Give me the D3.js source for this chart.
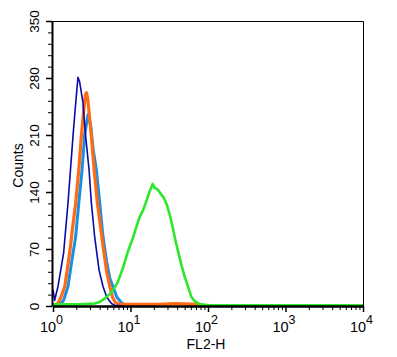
<!DOCTYPE html>
<html>
<head>
<meta charset="utf-8">
<script src="https://cdn.jsdelivr.net/npm/d3@7"></script>
<style>
  body { margin: 0; background: #fff; }
  svg { display: block; font-family: "Liberation Sans", Arial, Helvetica, sans-serif; }
</style>
</head>
<body>
<div id="chart"></div>
<script>
// FL2-H channel values (linear) and event counts
var navyX  = [1, 1.05, 1.16, 1.37, 1.56, 1.81, 1.93, 2.10, 2.21, 2.44, 2.64, 2.92, 3.13, 3.45, 3.93, 4.42, 4.93, 5.68, 6.25, 8];
var navyY  = [20, 7, 24, 65, 126, 208, 241, 281, 275, 249, 208, 167, 126, 85, 44, 24, 11, 3, 1, 0];

var blueX  = [1, 1.22, 1.37, 1.56, 1.74, 1.96, 2.15, 2.37, 2.56, 2.83, 3.06, 3.30, 3.63, 4.01, 4.42, 4.93, 5.40, 5.94, 6.64, 7.64, 8.67, 9.77];
var blueY  = [0, 1, 7, 24, 54, 85, 126, 167, 210, 235, 222, 192, 167, 126, 85, 54, 34, 24, 11, 4, 1, 0];

var orangeX = [1, 1.11, 1.22, 1.42, 1.64, 1.79, 1.96, 2.15, 2.32, 2.49, 2.60, 2.70, 2.81, 3.13, 3.40, 3.74, 4.12, 4.55, 4.93, 5.40, 5.89, 6.44, 7.24, 13.2, 22.4, 37.2, 77.6, 93];
var orangeY = [1, 1, 7, 24, 65, 96, 126, 167, 208, 240, 258, 262, 254, 208, 167, 126, 96, 65, 42, 24, 10, 4, 2, 2, 2, 3, 2, 0];

var greenX = [1, 2.21, 3.45, 4.01, 4.79, 5.72, 6.84, 8.00, 9.20, 10.7, 12.0, 13.1, 14.6, 16.2, 17.7, 19.3, 20.5, 22.4, 24.5, 26.8, 29.3, 32.1, 35.1, 38.3, 41.9, 45.8, 50.0, 54.7, 61.1, 67.4, 78.2, 105, 10000];
var greenY = [2, 2, 3, 5, 10, 17, 29, 47, 66, 83, 98, 109, 118, 130, 141, 150, 145, 143, 138, 133, 125, 112, 96, 79, 64, 49, 36, 25, 11, 6, 2, 1, 1];

var yMajor = [0, 70, 140, 210, 280, 350];
var xMajor = [1, 10, 100, 1000, 10000];

var width = 397, height = 357;
var margin = {top: 21, right: 34, bottom: 51, left: 53};

var svg = d3.select("#chart").append("svg")
    .attr("width", width)
    .attr("height", height);

var x = d3.scaleLog().domain([1, 10000]).range([margin.left, width - margin.right]);
var y = d3.scaleLinear().domain([0, 350]).range([height - margin.bottom, margin.top]);

var series = [
  {xs: blueX, ys: blueY, color: "#1a8fe6", w: 3},
  {xs: orangeX, ys: orangeY, color: "#ff6a12", w: 3.2},
  {xs: navyX, ys: navyY, color: "#0a0aa8", w: 1.6},
  {xs: greenX, ys: greenY, color: "#2be82b", w: 2.6}
];

var line = d3.line()
    .x(function(d) { return x(d[0]); })
    .y(function(d) { return y(d[1]); });

svg.selectAll("path.hist")
  .data(series)
  .enter()
  .append("path")
  .attr("class", "hist")
  .attr("fill", "none")
  .attr("stroke", function(d) { return d.color; })
  .attr("stroke-width", function(d) { return d.w; })
  .attr("stroke-linejoin", "round")
  .attr("d", function(d) { return line(d3.zip(d.xs, d.ys)); });

// frame: thin top and right
svg.append("path")
  .attr("fill", "none")
  .attr("stroke", "#000")
  .attr("stroke-width", 1)
  .attr("d", "M" + (margin.left - 1) + "," + (margin.top + 0.5) + "H" + (width - margin.right + 0.5) + "V" + (height - margin.bottom));

// y axis: minor then major
var yMinor = d3.range(0, 351, 14).filter(function(v) { return v % 70 !== 0; });
var gyMinor = svg.append("g")
  .attr("transform", "translate(" + (margin.left - 1) + ",0)")
  .call(d3.axisLeft(y).tickValues(yMinor).tickSize(4).tickFormat(""));
gyMinor.select(".domain").remove();

var gy = svg.append("g")
  .attr("transform", "translate(" + (margin.left - 1) + ",0)")
  .call(d3.axisLeft(y).tickValues(yMajor).tickSize(6).tickSizeOuter(0));
gy.select(".domain").attr("stroke-width", 2);
gy.selectAll(".tick line").attr("stroke-width", 1.5);
gy.selectAll(".tick text")
  .attr("transform", "rotate(-90)")
  .attr("x", 0)
  .attr("y", -13)
  .attr("dy", 0)
  .attr("text-anchor", "middle")
  .attr("fill", "#000")
  .attr("font-size", 13.5)
  .attr("font-family", "Liberation Sans, Arial, sans-serif");

// x axis: minor then major
var xMinor = [];
[1, 10, 100, 1000].forEach(function(dec) {
  for (var k = 2; k <= 9; k++) xMinor.push(dec * k);
});
var gxMinor = svg.append("g")
  .attr("transform", "translate(0," + (height - margin.bottom) + ")")
  .call(d3.axisBottom(x).tickValues(xMinor).tickSize(4).tickFormat(""));
gxMinor.select(".domain").remove();

var gx = svg.append("g")
  .attr("transform", "translate(0," + (height - margin.bottom) + ")")
  .call(d3.axisBottom(x).tickValues(xMajor).tickSize(6).tickSizeOuter(0));
gx.select(".domain").attr("stroke-width", 2.5);
gx.selectAll(".tick line").attr("stroke-width", 1.5);
gx.selectAll(".tick text")
  .text(null)
  .attr("y", 26)
  .attr("dy", 0)
  .attr("dx", -2)
  .attr("fill", "#000")
  .attr("font-family", "Liberation Sans, Arial, sans-serif")
  .each(function(d) {
    var t = d3.select(this);
    t.append("tspan").attr("font-size", 14.5).text("10");
    t.append("tspan").attr("font-size", 12.5).attr("dy", -8).text(Math.round(Math.log10(d)));
  });

// axis titles
svg.append("text")
  .attr("transform", "translate(23," + ((margin.top + height - margin.bottom) / 2 + 2) + ") rotate(-90)")
  .attr("text-anchor", "middle")
  .attr("font-size", 14)
  .text("Counts");

svg.append("text")
  .attr("x", x(100) - 2)
  .attr("y", 349)
  .attr("text-anchor", "middle")
  .attr("font-size", 14)
  .text("FL2-H");
</script>
</body>
</html>
